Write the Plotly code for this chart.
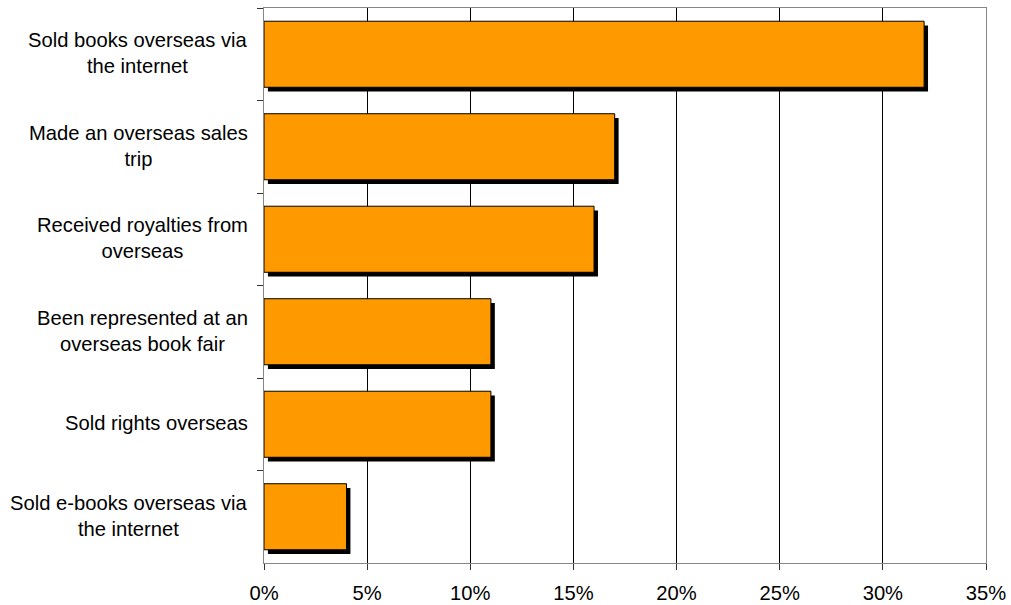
import plotly.graph_objects as go

categories = [
    "Sold books overseas via<br>the internet",
    "Made an overseas sales<br>trip",
    "Received royalties from<br>overseas",
    "Been represented at an<br>overseas book fair",
    "Sold rights overseas",
    "Sold e-books overseas via<br>the internet",
]
values = [32, 17, 16, 11, 11, 4]
x_ticks = [0, 5, 10, 15, 20, 25, 30, 35]
x_tick_labels = ["0%", "5%", "10%", "15%", "20%", "25%", "30%", "35%"]

FONT = "Liberation Sans, Arial, sans-serif"
BAR_W = 0.714
SH_X = 0.19   # shadow shift in % units (~4px)
SH_Y = 0.045  # shadow shift in category units (~4px)

fig = go.Figure()
fig.add_trace(go.Bar(
    y=categories, x=values, base=[SH_X] * len(values), orientation="h",
    width=BAR_W, offset=-BAR_W / 2 + SH_Y,
    marker=dict(color="#000000", line=dict(width=0)),
    hoverinfo="skip", showlegend=False,
))
fig.add_trace(go.Bar(
    y=categories, x=values, orientation="h",
    width=BAR_W, offset=-BAR_W / 2,
    marker=dict(color="#FF9900", line=dict(color="#000000", width=1)),
    showlegend=False,
))

for c in categories:
    fig.add_annotation(
        x=0, xref="paper", y=c, yref="y", text=c, showarrow=False,
        xanchor="right", xshift=-14, yshift=1, align="center",
        font=dict(family=FONT, size=20.2, color="#000000"),
    )

fig.update_layout(
    width=1011, height=605,
    margin=dict(l=264, r=25, t=8, b=42, autoexpand=False),
    paper_bgcolor="white", plot_bgcolor="white",
    barmode="overlay",
    font=dict(family=FONT, size=20.2, color="#000000"),
    xaxis=dict(
        range=[0, 35], tickvals=x_ticks, ticktext=x_tick_labels,
        showgrid=True, gridcolor="#000000", gridwidth=1,
        showline=True, linecolor="#868686", linewidth=1, mirror=True,
        ticks="outside", ticklen=6, tickcolor="#333333",
        ticklabelstandoff=6, automargin=False,
        zeroline=False, fixedrange=True,
    ),
    yaxis=dict(
        type="category", categoryorder="array", categoryarray=categories,
        autorange="reversed", showticklabels=False, automargin=False,
        tickson="boundaries", ticks="outside", ticklen=6, tickcolor="#333333",
        showline=True, linecolor="#868686", linewidth=1, mirror=True,
        showgrid=False, zeroline=False, fixedrange=True,
    ),
)

fig.write_html("out.html")
